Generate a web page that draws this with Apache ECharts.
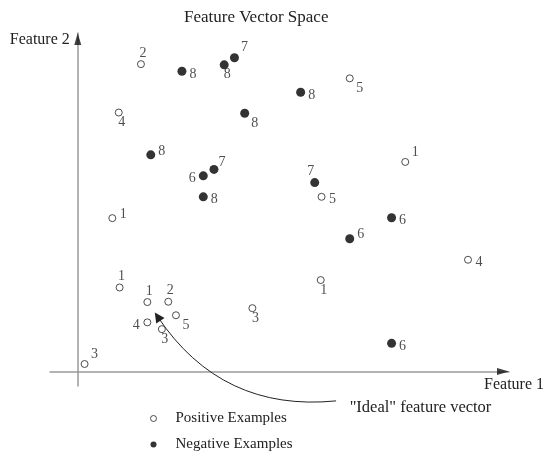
<!DOCTYPE html>
<html><head><meta charset="utf-8">
<script src="https://cdn.jsdelivr.net/npm/echarts@6/dist/echarts.min.js"></script>
<style>html,body{margin:0;padding:0;background:#fff}#c{width:547px;height:459px}</style>
</head><body><div id="c"></div>
<script>
// ---- data ----
const chartTitle = 'Feature Vector Space';
const xName = 'Feature 1';
const yName = 'Feature 2';
const posName = 'Positive Examples';
const negName = 'Negative Examples';

const posX     = [14.8, 9.6, 63.7, 76.7, 57.1, 8.1, 91.4, 56.9, 9.8, 16.3, 21.2, 23.0, 16.3, 19.7, 40.9, 1.6];
const posY     = [90.8, 76.5, 86.6, 61.9, 51.6, 45.3, 33.0, 27.0, 24.8, 20.5, 20.6, 16.6, 14.5, 12.5, 18.7, 2.2];
const posLabel = ['2', '4', '5', '1', '5', '1', '4', '1', '1', '1', '2', '5', '4', '3', '3', '3'];
const posPlace = ['T', 'B', 'BR', 'TR', 'R', 'RU', 'R', 'B', 'T', 'T', 'T', 'BR', 'L', 'B', 'B', 'TR'];

const negX     = [24.4, 34.3, 36.7, 52.2, 39.1, 17.1, 29.4, 31.9, 29.4, 55.5, 73.5, 63.7, 73.5];
const negY     = [88.7, 90.6, 92.7, 82.5, 76.3, 64.0, 57.8, 59.7, 51.6, 55.8, 45.4, 39.2, 8.3];
const negLabel = ['8', '8', '7', '8', '8', '8', '6', '7', '8', '7', '6', '6', '6'];
const negPlace = ['R', 'B', 'TR', 'R', 'BR', 'RU', 'L', 'TRS', 'R', 'TL', 'R', 'RU', 'R'];

const idealText = '"Ideal" feature vector';
const idealFrom = [60.5, -8.7];
const idealTo   = [18.7, 16.2];

const xMin = -6.5, xMax = 101, yMin = -4.3, yMax = 100;

// ---- styling ----
const FONT = "'Liberation Serif','DejaVu Serif',serif";
const INK = '#222';
const OFF = {T:[2,-11], B:[3,10], R:[11,3], RU:[11,-4], L:[-11,3], TR:[10,-10], TRS:[8,-7], BR:[10,10], TL:[-4,-11]};

function build(xs, ys, labs, places) {
  return xs.map((x, i) => ({
    value: [x, ys[i]],
    label: { formatter: labs[i], offset: OFF[places[i]] }
  }));
}

const labelBase = {
  show: true, position: 'inside', color: INK, fontFamily: FONT, fontSize: 14,
  align: 'center', verticalAlign: 'middle'
};

const chart = echarts.init(document.getElementById('c'), null, {renderer: 'canvas'});
chart.setOption({
  animation: false,
  backgroundColor: '#fff',
  title: {
    text: chartTitle, left: 184, top: 9, padding: 0,
    textStyle: { fontFamily: FONT, fontSize: 17, fontWeight: 'normal', color: INK }
  },
  legend: {
    data: [posName, negName], orient: 'vertical', left: 150, top: 411,
    itemWidth: 6, itemHeight: 6, itemGap: 11, padding: 0,
    itemStyle: { borderWidth: 1 },
    textStyle: { fontFamily: FONT, fontSize: 15, color: INK, padding: [0, 0, 0, 14] }
  },
  grid: { left: 50, right: 35, top: 33, bottom: 73 },
  xAxis: {
    type: 'value', min: xMin, max: xMax,
    name: xName, nameLocation: 'end', nameGap: 35,
    nameTextStyle: { fontFamily: FONT, fontSize: 16, color: INK, align: 'right', verticalAlign: 'top', padding: [5, 0, 0, 0] },
    axisLine: { onZero: true, lineStyle: { color: '#9a9a9a', width: 1.5 } },
    axisTick: { show: false }, axisLabel: { show: false }, splitLine: { show: false }
  },
  yAxis: {
    type: 'value', min: yMin, max: yMax,
    name: yName, nameLocation: 'end', nameGap: -7,
    nameTextStyle: { fontFamily: FONT, fontSize: 16, color: INK, align: 'right', verticalAlign: 'middle', padding: [0, 8, 0, 0] },
    axisLine: { onZero: true, lineStyle: { color: '#9a9a9a', width: 1.5 } },
    axisTick: { show: false }, axisLabel: { show: false }, splitLine: { show: false }
  },
  series: [
    {
      name: 'axisArrows', type: 'scatter', silent: true, clip: false, z: 3,
      symbol: 'triangle',
      data: [
        { value: [xMax, 0], symbolRotate: -90, symbolOffset: [-6, 0] },
        { value: [0, yMax], symbolRotate: 0, symbolOffset: [0, 6] }
      ],
      symbolSize: [7, 12],
      itemStyle: { color: '#111' }
    },
    {
      name: posName, type: 'scatter', symbol: 'circle', symbolSize: 7,
      itemStyle: { color: '#fff', borderColor: INK, borderWidth: 1 },
      label: labelBase,
      data: build(posX, posY, posLabel, posPlace)
    },
    {
      name: negName, type: 'scatter', symbol: 'circle', symbolSize: 9,
      itemStyle: { color: '#000' },
      label: labelBase,
      data: build(negX, negY, negLabel, negPlace)
    },
    {
      name: 'ideal', type: 'lines', coordinateSystem: 'cartesian2d', clip: false, silent: true,
      symbol: ['none', 'triangle'], symbolSize: 10,
      lineStyle: { color: INK, width: 1, curveness: 0.3, opacity: 1 },
      label: { show: true, position: 'start', distance: 15, formatter: idealText,
               fontFamily: FONT, fontSize: 16.5, color: INK, padding: [12, 0, 0, 0] },
      data: [{ coords: [idealFrom, idealTo] }]
    }
  ]
});
</script>
</body></html>
